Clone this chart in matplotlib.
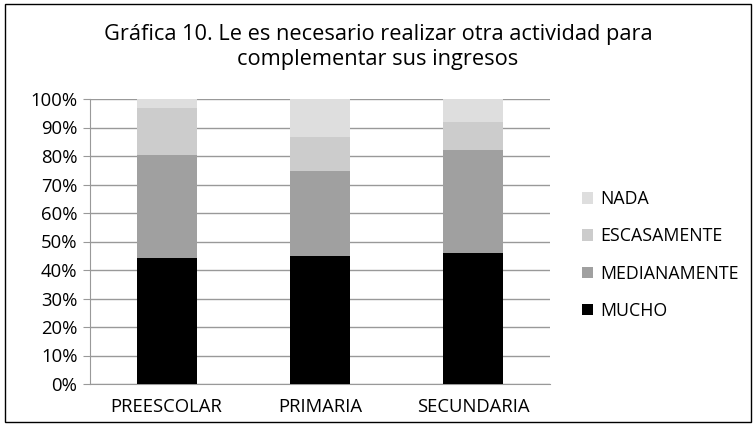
import matplotlib
matplotlib.use("Agg")
import matplotlib.pyplot as plt
from matplotlib.patches import Rectangle
from matplotlib.ticker import FuncFormatter, MultipleLocator

categories = ["PREESCOLAR", "PRIMARIA", "SECUNDARIA"]
series_names = ["MUCHO", "MEDIANAMENTE", "ESCASAMENTE", "NADA"]
mucho = [44.3, 44.9, 45.9]
medianamente = [35.9, 29.8, 36.2]
escasamente = [16.8, 12.0, 9.7]
nada = [3.0, 13.3, 8.2]
colors = ["#000000", "#a0a0a0", "#cccccc", "#dedede"]

plt.rcParams['font.family'] = ['Open Sans', 'DejaVu Sans']

W, H = 756, 426
fig = plt.figure(figsize=(W/100, H/100), dpi=100)
fig.patches.append(Rectangle((5/W, 4/H), 1-10/W, 1-8/H, transform=fig.transFigure,
                             fill=False, edgecolor="black", linewidth=1.0))

ax = fig.add_axes([90/W, 1-384/H, (550-90)/W, (384-99)/H])
x = list(range(len(categories)))
bottom = [0]*3
handles = []
for vals, name, c in zip([mucho, medianamente, escasamente, nada], series_names, colors):
    b = ax.bar(x, vals, bottom=bottom, width=0.39, color=c, label=name, zorder=3)
    handles.append(b)
    bottom = [bb+v for bb, v in zip(bottom, vals)]

ax.set_xlim(-0.5, 2.5)
ax.set_ylim(0, 100)
ax.yaxis.set_major_locator(MultipleLocator(10))
ax.yaxis.set_major_formatter(FuncFormatter(lambda v, p: f"{int(v)}%"))
ax.set_xticks(x)
ax.set_xticklabels(categories)
ax.grid(axis='y', color="#999999", linewidth=1.0, zorder=0)
for s in ["top", "right"]:
    ax.spines[s].set_visible(False)
ax.spines["left"].set_color("#999999")
ax.spines["bottom"].set_color("#999999")
ax.tick_params(axis='y', length=5, color="#999999", labelsize=13.3, pad=4)
ax.tick_params(axis='x', length=0, labelsize=13.3, pad=10)

fig.text(0.5, 1-47/H, "Gráfica 10. Le es necesario realizar otra actividad para\ncomplementar sus ingresos",
         ha='center', va='center', fontsize=15.7, linespacing=1.3)

leg = fig.legend(handles[::-1], series_names[::-1], loc='center left',
                 bbox_to_anchor=(566/W, 1-255/H), frameon=False, fontsize=12.8,
                 handlelength=0.6, handleheight=0.6, labelspacing=1.08, handletextpad=0.45)

fig.savefig("out.png", dpi=100)
